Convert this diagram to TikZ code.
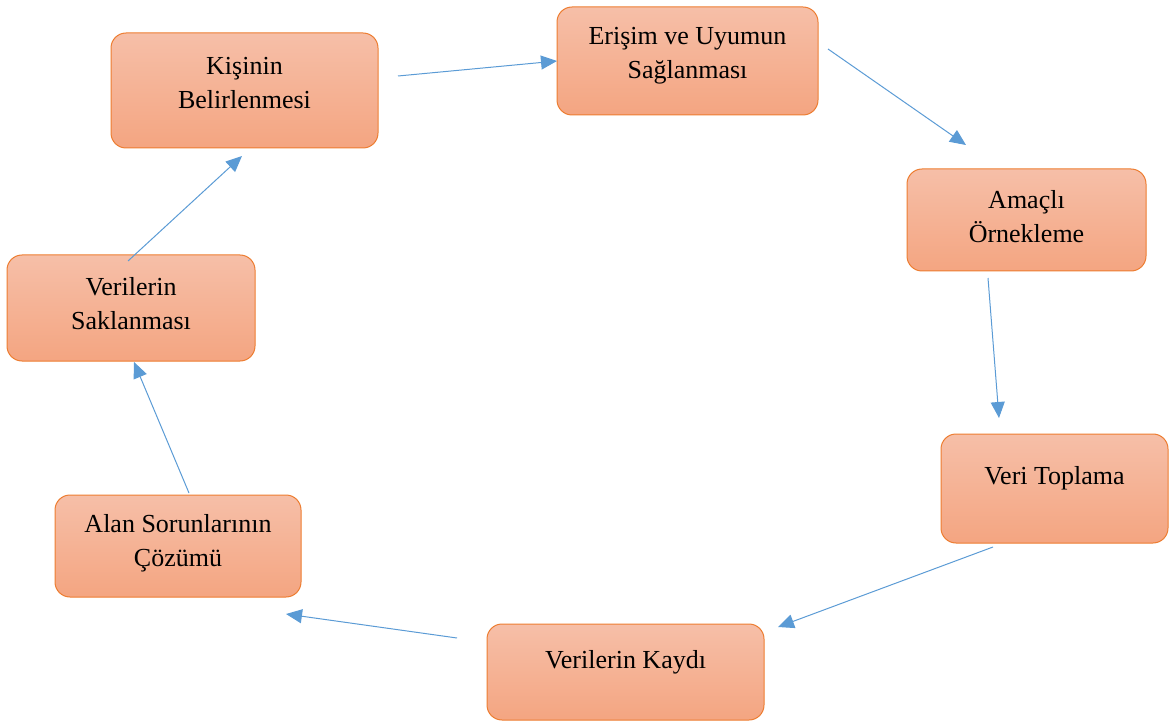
\documentclass[tikz,border=0pt]{standalone}
\usepackage{fontspec}
\setmainfont{Liberation Serif}
\usetikzlibrary{arrows.meta}
\definecolor{boxtop}{HTML}{F6BFA8}
\definecolor{boxbot}{HTML}{F4A581}
\definecolor{boxline}{HTML}{ED7D31}
\definecolor{arr}{HTML}{5B9BD5}
\begin{document}
\begin{tikzpicture}[x=1pt,y=-1pt,
  stepbox/.style={rounded corners=15pt, draw=boxline, line width=1pt, top color=boxtop, bottom color=boxbot, inner sep=0pt},
  lbl/.style={align=center, font=\fontsize{26}{34}\selectfont, inner sep=0pt},
  conn/.style={draw=arr, line width=1pt, -{Triangle[length=16pt,width=14pt]}}]
\useasboundingbox (0,0) rectangle (1173,722);
% boxes
\node[stepbox, minimum width=267pt, minimum height=115pt] (b1) at (244.5,90.5) {};
\node[stepbox, minimum width=261pt, minimum height=108pt] (b2) at (687.5,61) {};
\node[stepbox, minimum width=239pt, minimum height=102pt] (b3) at (1026.5,220) {};
\node[stepbox, minimum width=227pt, minimum height=109pt] (b4) at (1054.5,488.5) {};
\node[stepbox, minimum width=277pt, minimum height=96pt] (b5) at (625.5,672) {};
\node[stepbox, minimum width=246pt, minimum height=102pt] (b6) at (178,546) {};
\node[stepbox, minimum width=248pt, minimum height=106pt] (b7) at (131,308) {};
% labels
\node[lbl] (t1) at (244.5,83) {Kişinin\\Belirlenmesi};
\node[lbl] (t2) at (687.5,56) {Erişim ve Uyumun\\Sağlanması};
\node[lbl] (t3) at (1026.5,217) {Amaçlı\\Örnekleme};
\node[lbl] (t4) at (1054.5,478) {Veri Toplama};
\node[lbl] (t5) at (625.5,662) {Verilerin Kaydı};
\node[lbl] (t6) at (178,543.5) {Alan Sorunlarının\\Çözümü};
\node[lbl] (t7) at (131,303.5) {Verilerin\\Saklanması};
% connector ends
\coordinate (a1s) at (398,76);  \coordinate (a1e) at (557,61);
\coordinate (a2s) at (828,49);  \coordinate (a2e) at (966,145);
\coordinate (a3s) at (988,278); \coordinate (a3e) at (999,418);
\coordinate (a4s) at (993,547); \coordinate (a4e) at (778,627);
\coordinate (a5s) at (457,638); \coordinate (a5e) at (286,614);
\coordinate (a6s) at (189,493); \coordinate (a6e) at (134,362);
\coordinate (a7s) at (128,261); \coordinate (a7e) at (242,156);
\draw[conn] (a1s) -- (a1e);
\draw[conn] (a2s) -- (a2e);
\draw[conn] (a3s) -- (a3e);
\draw[conn] (a4s) -- (a4e);
\draw[conn] (a5s) -- (a5e);
\draw[conn] (a6s) -- (a6e);
\draw[conn] (a7s) -- (a7e);
\end{tikzpicture}
\end{document}
